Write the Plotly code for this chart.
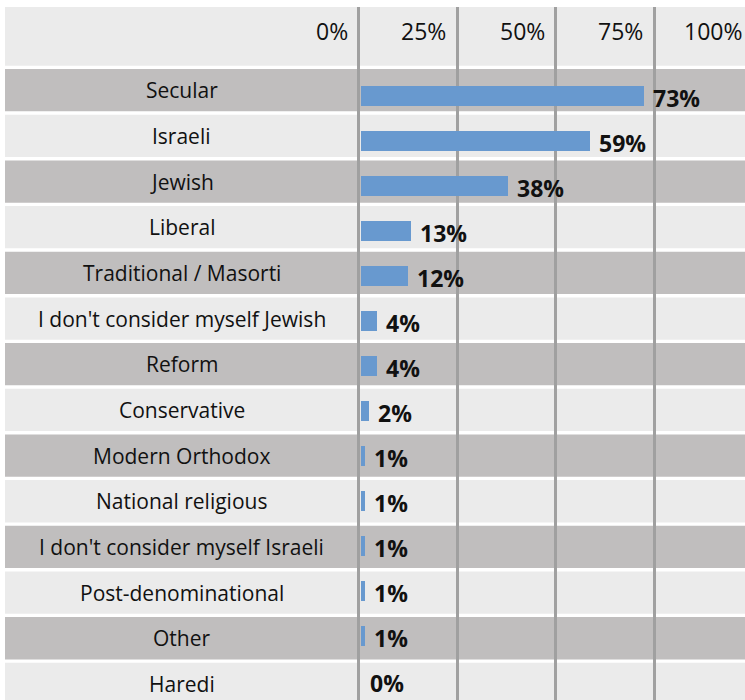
import plotly.graph_objects as go

# Survey responses: identity labels and share of respondents (%)
categories = [
    "Secular", "Israeli", "Jewish", "Liberal", "Traditional / Masorti",
    "I don't consider myself Jewish", "Reform", "Conservative",
    "Modern Orthodox", "National religious", "I don't consider myself Israeli",
    "Post-denominational", "Other", "Haredi",
]
values = [73, 59, 38, 13, 12, 4, 4, 2, 1, 1, 1, 1, 1, 0]
tick_vals = [0, 25, 50, 75, 100]
tick_text = ["0%", "25%", "50%", "75%", "100%"]

W, H = 745, 700
ML, MT = 5, 7
FONT = "Open Sans"
BAR_COLOR = "#6899cf"
DARK = "#c0bebe"
LIGHT = "#ebebeb"
GRID = "#a0a0a0"

# grid axis: 0% sits at x=358.5px, 3.94 px per percent
g0, gs = 358.5, 3.94
x_rng = [-(g0 - ML) / gs, -(g0 - ML) / gs + (W - ML) / gs]
# bar axis: bars start just right of the 0% line
b0, bs = 361.0, 3.88
x2_rng = [-(b0 - ML) / bs, -(b0 - ML) / bs + (W - ML) / bs]

# row bands: centre of first row and row pitch (px)
r0, rp = 90.2, 45.67
y_rng = [(H - r0) / rp, (MT - r0) / rp]
# bars: centre of first bar and pitch (px)
c0, cp = 96.0, 45.0
y2_rng = [(H - c0) / cp, (MT - c0) / cp]


def to_paper_x(v):
    return (g0 + gs * v - ML) / (W - ML)


def px_to_paper_y(p):
    return (H - p) / (H - MT)


fig = go.Figure()

# placeholder trace so the band axes carry the categories
fig.add_trace(go.Scatter(
    x=[None] * len(categories), y=categories, xaxis="x", yaxis="y",
    mode="markers", showlegend=False, hoverinfo="skip",
))

fig.add_trace(go.Bar(
    x=values, y=categories, orientation="h", xaxis="x2", yaxis="y2",
    width=0.444, marker=dict(color=BAR_COLOR, line=dict(width=0)),
    showlegend=False, hoverinfo="x+y",
))

shapes = []
# header band
shapes.append(dict(
    type="rect", xref="paper", yref="paper", layer="below",
    x0=0, x1=1, y0=px_to_paper_y(65.7), y1=1,
    fillcolor=LIGHT, line=dict(width=0),
))
# alternating row bands
for i, _ in enumerate(categories):
    shapes.append(dict(
        type="rect", xref="paper", yref="y", layer="below",
        x0=0, x1=1, y0=i - 0.463, y1=i + 0.463,
        fillcolor=DARK if i % 2 == 0 else LIGHT, line=dict(width=0),
    ))

annotations = []
# header percentages, right-aligned left of each grid line
for v, t in zip(tick_vals, tick_text):
    annotations.append(dict(
        xref="paper", yref="paper", x=to_paper_x(v), y=px_to_paper_y(31),
        xanchor="right", yanchor="middle", xshift=-9, showarrow=False,
        text=t, font=dict(family=FONT, size=23, color="#111111"),
    ))
# category names centred in the left column
for i, c in enumerate(categories):
    annotations.append(dict(
        xref="paper", yref="y", x=(181.5 - ML) / (W - ML), y=i,
        xanchor="center", yanchor="middle", showarrow=False,
        text=c, font=dict(family=FONT, size=21, color="#111111"),
    ))
# value labels beside each bar
for c, v in zip(categories, values):
    annotations.append(dict(
        xref="x2", yref="y2", x=v, y=c,
        xanchor="left", yanchor="middle", xshift=7, yshift=-2, showarrow=False,
        text=f"<b>{v}%</b>", font=dict(family=FONT, size=23, color="#111111"),
    ))

fig.update_layout(
    width=W, height=H,
    margin=dict(l=ML, r=0, t=MT, b=0, pad=0),
    paper_bgcolor="white", plot_bgcolor="rgba(0,0,0,0)",
    bargap=0,
    xaxis=dict(
        range=x_rng, tickvals=tick_vals, showticklabels=False, ticks="",
        showgrid=True, gridcolor=GRID, gridwidth=2.5, zeroline=False,
        showline=False, fixedrange=True,
    ),
    xaxis2=dict(
        range=x2_rng, overlaying="x", visible=False, fixedrange=True,
    ),
    yaxis=dict(
        type="category", categoryarray=categories, categoryorder="array",
        range=y_rng, showgrid=False, showticklabels=False, ticks="",
        zeroline=False, showline=False, fixedrange=True,
    ),
    yaxis2=dict(
        type="category", categoryarray=categories, categoryorder="array",
        range=y2_rng, overlaying="y", visible=False, fixedrange=True,
    ),
    shapes=shapes,
    annotations=annotations,
)

fig.write_html("out.html")
